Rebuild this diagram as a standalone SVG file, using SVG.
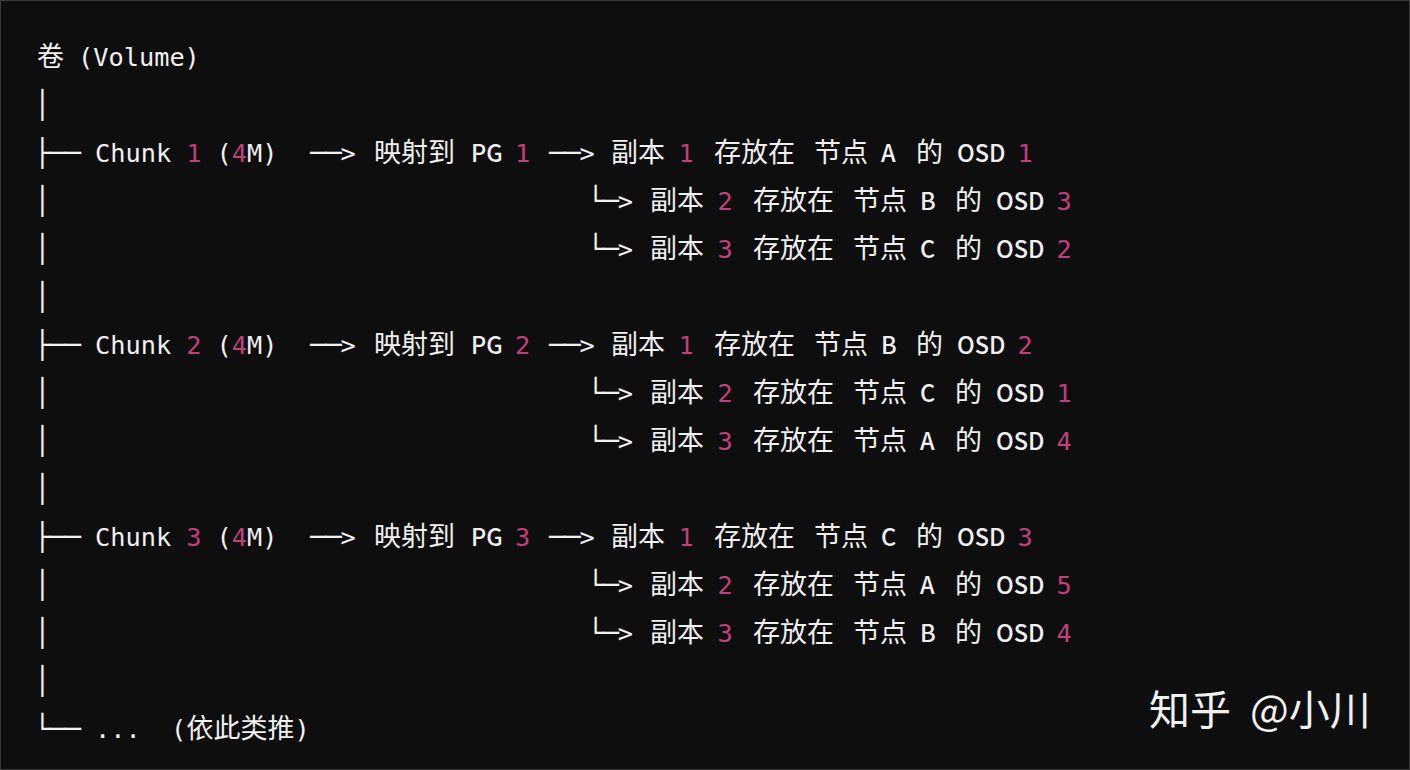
<svg xmlns="http://www.w3.org/2000/svg" width="1410" height="770" viewBox="0 0 1410 770">
<style>
text{fill:#f0f0f0}
.m{font-family:"DejaVu Sans Mono","Liberation Mono",monospace;font-size:25.3px}
.b{font-family:"DejaVu Sans Mono","Liberation Mono",monospace;font-size:27px}
.c{font-family:"Noto Sans CJK SC","Noto Sans",sans-serif;font-size:27px}
.l{font-family:"Noto Sans CJK SC","Noto Sans",sans-serif;font-size:23.5px;font-weight:500}
.n{fill:#c23e7c}
.w{font-family:"Noto Sans CJK SC","Noto Sans",sans-serif;font-size:41px}
</style>
<rect x="0.5" y="0.5" width="1409" height="769" fill="#0e0e0e" stroke="#3a3a3a" stroke-width="1"/>
<g id="row0"><text class="c" x="37" y="66">卷</text><text class="m" x="78" y="66">(Volume)</text></g>
<g id="connectors">
<text class="b" x="34.2" y="114">│</text>
<text class="b" x="34.2" y="210">│</text>
<text class="b" x="34.2" y="258">│</text>
<text class="b" x="34.2" y="306">│</text>
<text class="b" x="34.2" y="402">│</text>
<text class="b" x="34.2" y="450">│</text>
<text class="b" x="34.2" y="498">│</text>
<text class="b" x="34.2" y="594">│</text>
<text class="b" x="34.2" y="642">│</text>
<text class="b" x="34.2" y="690">│</text>
<text class="b" x="34.2 49.4 64.6" y="162">├──</text>
<text class="b" x="34.2 49.4 64.6" y="354">├──</text>
<text class="b" x="34.2 49.4 64.6" y="546">├──</text>
<text class="b" x="34.2 49.4 64.6" y="738">└──</text>
<text class="b" x="310 325.2" y="162">──</text><text class="m" x="340.4" y="162">&gt;</text>
<text class="b" x="310 325.2" y="354">──</text><text class="m" x="340.4" y="354">&gt;</text>
<text class="b" x="310 325.2" y="546">──</text><text class="m" x="340.4" y="546">&gt;</text>
<text class="b" x="549 564.2" y="162">──</text><text class="m" x="579.4" y="162">&gt;</text>
<text class="b" x="549 564.2" y="354">──</text><text class="m" x="579.4" y="354">&gt;</text>
<text class="b" x="549 564.2" y="546">──</text><text class="m" x="579.4" y="546">&gt;</text>
<text class="b" x="587.4 602.6" y="210">└─</text><text class="m" x="617.8" y="210">&gt;</text>
<text class="b" x="587.4 602.6" y="258">└─</text><text class="m" x="617.8" y="258">&gt;</text>
<text class="b" x="587.4 602.6" y="402">└─</text><text class="m" x="617.8" y="402">&gt;</text>
<text class="b" x="587.4 602.6" y="450">└─</text><text class="m" x="617.8" y="450">&gt;</text>
<text class="b" x="587.4 602.6" y="594">└─</text><text class="m" x="617.8" y="594">&gt;</text>
<text class="b" x="587.4 602.6" y="642">└─</text><text class="m" x="617.8" y="642">&gt;</text>
</g>
<g id="chunk1">
<text class="m" x="95" y="162">Chunk</text><text class="m n" x="186.2" y="162">1</text><text class="m" x="216.6" y="162">(</text><text class="m n" x="231.8" y="162">4</text><text class="m" x="247" y="162">M)</text>
<text class="c" x="374" y="162">映射到</text><text class="l" x="471" y="162">PG</text><text class="m n" x="515" y="162">1</text>
<text class="c" x="611" y="162">副本</text><text class="m n" x="678.5" y="162">1</text><text class="c" x="714" y="162">存放在</text><text class="c" x="814" y="162">节点</text><text class="l" x="881" y="162">A</text><text class="c" x="916" y="162">的</text><text class="l" x="957" y="162">OSD</text><text class="m n" x="1017.5" y="162">1</text>
<text class="c" x="650" y="210">副本</text><text class="m n" x="717.5" y="210">2</text><text class="c" x="753" y="210">存放在</text><text class="c" x="853" y="210">节点</text><text class="l" x="920" y="210">B</text><text class="c" x="955" y="210">的</text><text class="l" x="996" y="210">OSD</text><text class="m n" x="1056.5" y="210">3</text>
<text class="c" x="650" y="258">副本</text><text class="m n" x="717.5" y="258">3</text><text class="c" x="753" y="258">存放在</text><text class="c" x="853" y="258">节点</text><text class="l" x="920" y="258">C</text><text class="c" x="955" y="258">的</text><text class="l" x="996" y="258">OSD</text><text class="m n" x="1056.5" y="258">2</text>
</g>
<g id="chunk2">
<text class="m" x="95" y="354">Chunk</text><text class="m n" x="186.2" y="354">2</text><text class="m" x="216.6" y="354">(</text><text class="m n" x="231.8" y="354">4</text><text class="m" x="247" y="354">M)</text>
<text class="c" x="374" y="354">映射到</text><text class="l" x="471" y="354">PG</text><text class="m n" x="515" y="354">2</text>
<text class="c" x="611" y="354">副本</text><text class="m n" x="678.5" y="354">1</text><text class="c" x="714" y="354">存放在</text><text class="c" x="814" y="354">节点</text><text class="l" x="881" y="354">B</text><text class="c" x="916" y="354">的</text><text class="l" x="957" y="354">OSD</text><text class="m n" x="1017.5" y="354">2</text>
<text class="c" x="650" y="402">副本</text><text class="m n" x="717.5" y="402">2</text><text class="c" x="753" y="402">存放在</text><text class="c" x="853" y="402">节点</text><text class="l" x="920" y="402">C</text><text class="c" x="955" y="402">的</text><text class="l" x="996" y="402">OSD</text><text class="m n" x="1056.5" y="402">1</text>
<text class="c" x="650" y="450">副本</text><text class="m n" x="717.5" y="450">3</text><text class="c" x="753" y="450">存放在</text><text class="c" x="853" y="450">节点</text><text class="l" x="920" y="450">A</text><text class="c" x="955" y="450">的</text><text class="l" x="996" y="450">OSD</text><text class="m n" x="1056.5" y="450">4</text>
</g>
<g id="chunk3">
<text class="m" x="95" y="546">Chunk</text><text class="m n" x="186.2" y="546">3</text><text class="m" x="216.6" y="546">(</text><text class="m n" x="231.8" y="546">4</text><text class="m" x="247" y="546">M)</text>
<text class="c" x="374" y="546">映射到</text><text class="l" x="471" y="546">PG</text><text class="m n" x="515" y="546">3</text>
<text class="c" x="611" y="546">副本</text><text class="m n" x="678.5" y="546">1</text><text class="c" x="714" y="546">存放在</text><text class="c" x="814" y="546">节点</text><text class="l" x="881" y="546">C</text><text class="c" x="916" y="546">的</text><text class="l" x="957" y="546">OSD</text><text class="m n" x="1017.5" y="546">3</text>
<text class="c" x="650" y="594">副本</text><text class="m n" x="717.5" y="594">2</text><text class="c" x="753" y="594">存放在</text><text class="c" x="853" y="594">节点</text><text class="l" x="920" y="594">A</text><text class="c" x="955" y="594">的</text><text class="l" x="996" y="594">OSD</text><text class="m n" x="1056.5" y="594">5</text>
<text class="c" x="650" y="642">副本</text><text class="m n" x="717.5" y="642">3</text><text class="c" x="753" y="642">存放在</text><text class="c" x="853" y="642">节点</text><text class="l" x="920" y="642">B</text><text class="c" x="955" y="642">的</text><text class="l" x="996" y="642">OSD</text><text class="m n" x="1056.5" y="642">4</text>
</g>
<g id="etc">
<text class="m" x="95" y="738">...</text><text class="m" x="171" y="738">(</text><text class="c" x="186.5" y="738">依此类推</text><text class="m" x="294.5" y="738">)</text>
</g>
<g id="watermark">
<text class="w" x="1149" y="725">知乎</text><text class="w" x="1250" y="725">@小川</text>
</g>
</svg>
